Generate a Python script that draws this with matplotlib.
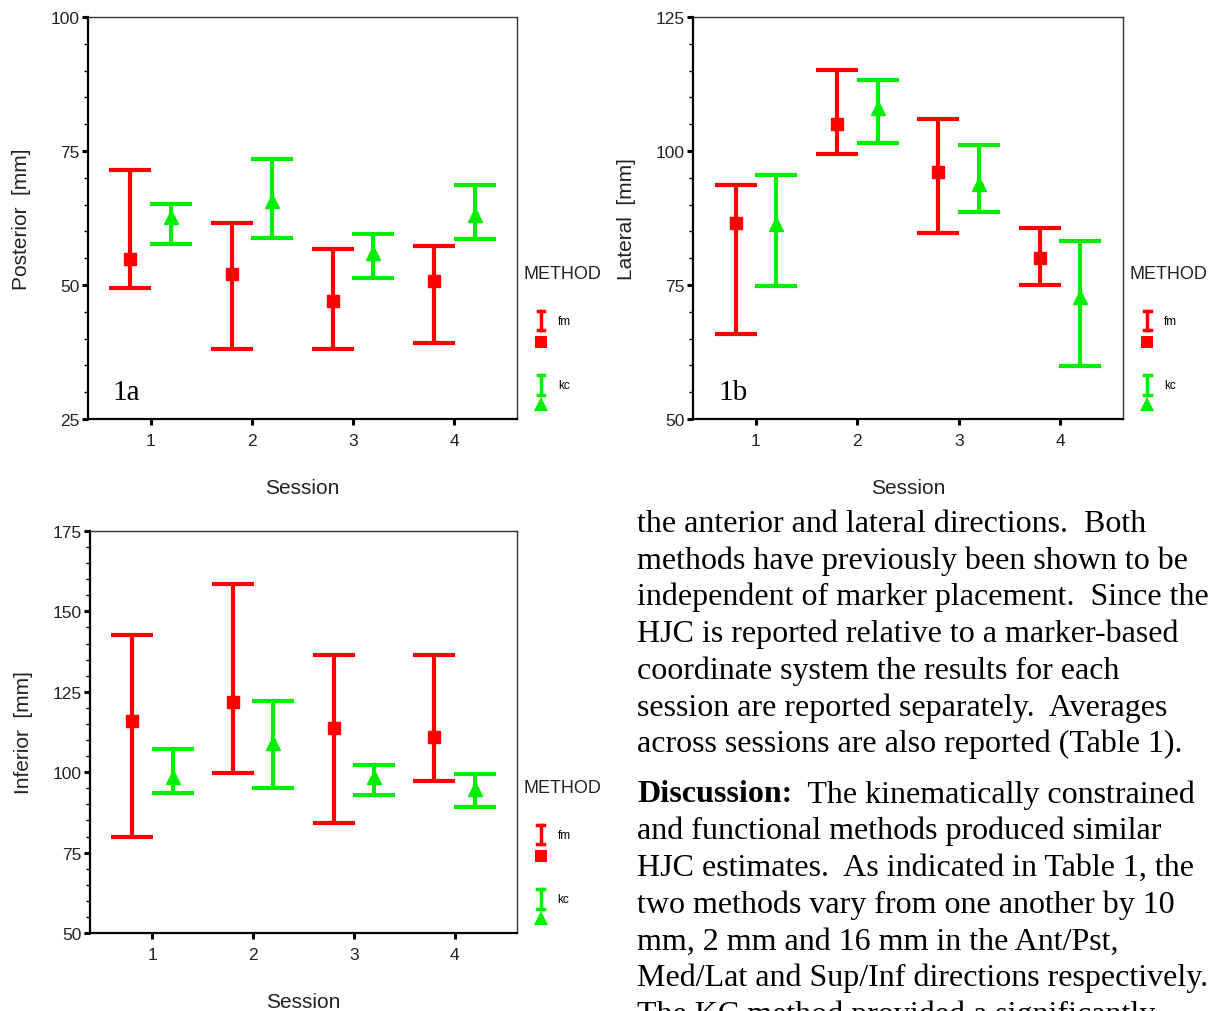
import matplotlib
matplotlib.use("Agg")
import matplotlib.pyplot as plt
from matplotlib.ticker import MultipleLocator

# sessions and method offsets
sessions = [1, 2, 3, 4]
methods = ['fm', 'kc']

# Posterior (1a)
post_fm_mean = [54.8, 52.0, 47.1, 50.8]
post_fm_low = [49.5, 38.0, 38.0, 39.1]
post_fm_high = [71.4, 61.5, 56.8, 57.2]
post_kc_mean = [62.7, 65.6, 56.0, 63.0]
post_kc_low = [57.7, 58.7, 51.3, 58.5]
post_kc_high = [65.1, 73.5, 59.5, 68.7]

# Lateral (1b)
lat_fm_mean = [86.5, 105.1, 96.1, 80.1]
lat_fm_low = [65.8, 99.5, 84.7, 75.0]
lat_fm_high = [93.6, 115.1, 105.9, 85.6]
lat_kc_mean = [86.3, 108.0, 93.9, 72.8]
lat_kc_low = [74.8, 101.5, 88.7, 59.9]
lat_kc_high = [95.6, 113.3, 101.2, 83.2]

# Inferior (1c)
inf_fm_mean = [116.0, 121.9, 113.8, 110.8]
inf_fm_low = [79.8, 99.8, 84.2, 97.2]
inf_fm_high = [142.7, 158.4, 136.4, 136.4]
inf_kc_mean = [98.4, 109.0, 98.4, 94.7]
inf_kc_low = [93.4, 95.2, 93.0, 89.3]
inf_kc_high = [107.1, 122.0, 102.3, 99.3]

paragraph1 = [
    "the anterior and lateral directions.  Both",
    "methods have previously been shown to be",
    "independent of marker placement.  Since the",
    "HJC is reported relative to a marker-based",
    "coordinate system the results for each",
    "session are reported separately.  Averages",
    "across sessions are also reported (Table 1).",
]
paragraph2_head = "Discussion:"
paragraph2 = [
    "  The kinematically constrained",
    "and functional methods produced similar",
    "HJC estimates.  As indicated in Table 1, the",
    "two methods vary from one another by 10",
    "mm, 2 mm and 16 mm in the Ant/Pst,",
    "Med/Lat and Sup/Inf directions respectively.",
    "The KC method provided a significantly",
]

RED = '#ff0000'
GREEN = '#00ee00'
W, H = 1214, 1012
SANS = ['Liberation Sans', 'DejaVu Sans']
SERIF = ['Liberation Serif', 'DejaVu Serif']
BODY_SIZE = 23


def errbars(ax, xs, mean, low, high, color, marker, ms):
    yerr = [[m - l for m, l in zip(mean, low)], [h - m for m, h in zip(mean, high)]]
    ax.errorbar(xs, mean, yerr=yerr, fmt=marker, color=color, ecolor=color,
                mec=color, elinewidth=3, capsize=15, capthick=3, markersize=ms)


def legend_icon(ax, x, y0, y1, color):
    ax.plot([x, x], [y0, y1], color=color, lw=2.5, transform=ax.transAxes, clip_on=False)
    for yy in (y0, y1):
        ax.plot([x - 0.008, x + 0.008], [yy, yy], color=color, lw=2.5,
                transform=ax.transAxes, clip_on=False)


def draw_panel(ax, fm, kc, ylim, ylabel, tag=None):
    x_fm = [s - 0.2 for s in sessions]
    x_kc = [s + 0.2 for s in sessions]
    errbars(ax, x_fm, *fm, RED, 's', 8.5)
    errbars(ax, x_kc, *kc, GREEN, '^', 9.5)
    ax.set_xlim(0.38, 4.62)
    ax.set_ylim(*ylim)
    ax.set_xticks(sessions)
    ax.yaxis.set_major_locator(MultipleLocator(25))
    ax.yaxis.set_minor_locator(MultipleLocator(5))
    ax.tick_params(axis='both', which='major', length=4, width=2.2, direction='out',
                   labelsize=12.5, labelcolor='#222222', pad=2)
    ax.tick_params(axis='x', pad=6)
    ax.tick_params(axis='y', which='minor', length=3, width=1)
    for name, sp in ax.spines.items():
        sp.set_color('black' if name in ('left', 'bottom') else '#333333')
        sp.set_linewidth(1.6 if name in ('left', 'bottom') else 1.0)
    for lab in ax.get_xticklabels() + ax.get_yticklabels():
        lab.set_family(SANS)
    ax.set_xlabel('Session', fontsize=15, family=SANS, color='#222222', labelpad=22)
    ax.set_ylabel(ylabel, fontsize=15, family=SANS, color='#222222', labelpad=14)
    if tag:
        ax.text(0.058, 0.067, tag, transform=ax.transAxes, fontsize=21,
                family=SERIF, ha='left', va='center')
    # legend in SPSS style
    ax.text(1.016, 0.361, 'METHOD', transform=ax.transAxes, fontsize=13,
            family=SANS, color='#222222', ha='left', va='center')
    legend_icon(ax, 1.056, 0.221, 0.269, RED)
    ax.text(1.095, 0.244, methods[0], transform=ax.transAxes, fontsize=8.5,
            family=SANS, ha='left', va='center')
    ax.plot([1.056], [0.1915], marker='s', color=RED, ms=9, transform=ax.transAxes,
            clip_on=False, markeredgewidth=0)
    legend_icon(ax, 1.056, 0.060, 0.109, GREEN)
    ax.text(1.095, 0.084, methods[1], transform=ax.transAxes, fontsize=8.5,
            family=SANS, ha='left', va='center')
    ax.plot([1.056], [0.037], marker='^', color=GREEN, ms=10, transform=ax.transAxes,
            clip_on=False, markeredgewidth=0)


fig = plt.figure(figsize=(W / 100, H / 100), dpi=100)
fig.patch.set_facecolor('white')

ax1 = fig.add_axes([88 / W, 1 - 420 / H, 429 / W, 402 / H])
ax2 = fig.add_axes([693 / W, 1 - 420 / H, 430 / W, 402 / H])
ax3 = fig.add_axes([90 / W, 1 - 934 / H, 427 / W, 402 / H])

draw_panel(ax1, (post_fm_mean, post_fm_low, post_fm_high),
           (post_kc_mean, post_kc_low, post_kc_high), (25, 100), 'Posterior  [mm]', '1a')
draw_panel(ax2, (lat_fm_mean, lat_fm_low, lat_fm_high),
           (lat_kc_mean, lat_kc_low, lat_kc_high), (50, 125), 'Lateral  [mm]', '1b')
draw_panel(ax3, (inf_fm_mean, inf_fm_low, inf_fm_high),
           (inf_kc_mean, inf_kc_low, inf_kc_high), (50, 175), 'Inferior  [mm]')

# body text to the right of panel 1c
x0 = 637 / W
base = 532
step = 36.75
for i, line in enumerate(paragraph1):
    fig.text(x0, 1 - (base + i * step) / H, line, fontsize=BODY_SIZE, family=SERIF,
             ha='left', va='baseline')

base2 = base + 6 * step + 50
head = fig.text(x0, 1 - base2 / H, paragraph2_head, fontsize=BODY_SIZE, family=SERIF,
                weight='bold', ha='left', va='baseline')
renderer = fig.canvas.get_renderer()
bb = head.get_window_extent(renderer)
fig.text(bb.x1 / W, 1 - base2 / H, paragraph2[0], fontsize=BODY_SIZE, family=SERIF,
         ha='left', va='baseline')
for i, line in enumerate(paragraph2[1:], start=1):
    fig.text(x0, 1 - (base2 + i * step) / H, line, fontsize=BODY_SIZE, family=SERIF,
             ha='left', va='baseline')

fig.savefig('out.png', dpi=100, facecolor='white')
